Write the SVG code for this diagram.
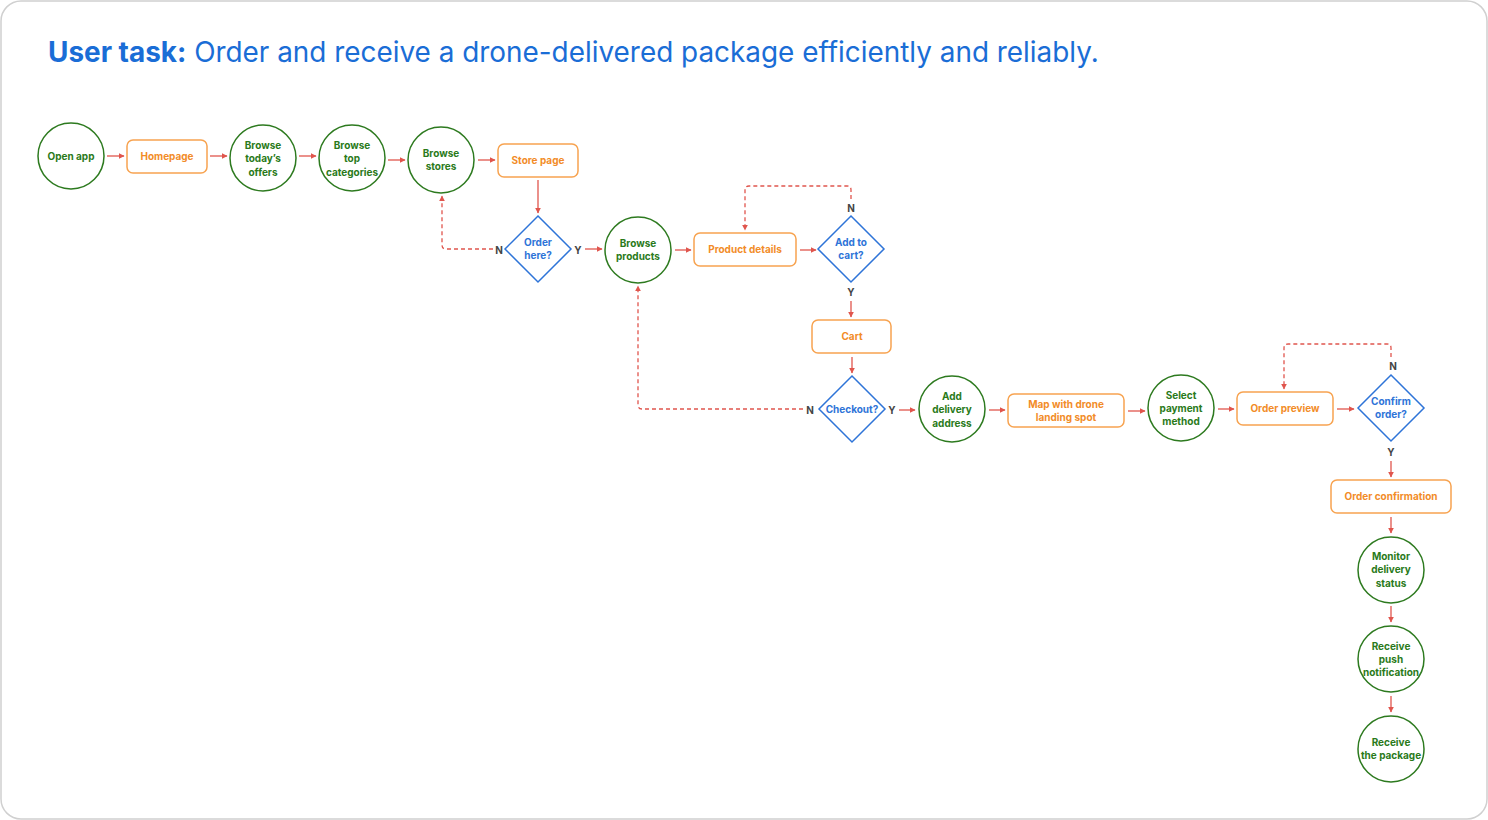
<svg xmlns="http://www.w3.org/2000/svg" width="1488" height="820" viewBox="0 0 1488 820">
<defs>
<marker id="ah" viewBox="0 0 10 10" refX="9" refY="5" markerWidth="6" markerHeight="6" markerUnits="userSpaceOnUse" orient="auto"><path d="M0,0 L10,5 L0,10 z" fill="#e0554d"/></marker>
<style>
.circ{fill:#fff;stroke:#2d7a1f;stroke-width:1.5}
.box{fill:#fff;stroke:#f7a350;stroke-width:1.5}
.dia{fill:#fff;stroke:#2e74d8;stroke-width:1.5}
.gt{font-family:Inter,"Liberation Sans",sans-serif;font-size:10px;font-weight:700;fill:#2a7a1a;text-anchor:middle}
.ot{font-family:Inter,"Liberation Sans",sans-serif;font-size:10px;font-weight:700;fill:#f28c28;text-anchor:middle}
.bt{font-family:Inter,"Liberation Sans",sans-serif;font-size:10px;font-weight:700;fill:#2e74d8;text-anchor:middle}
.lbl{font-family:Inter,"Liberation Sans",sans-serif;font-size:10px;font-weight:700;fill:#444;text-anchor:middle}
.c{fill:none;stroke:#e0554d;stroke-width:1.3;marker-end:url(#ah)}
.d{fill:none;stroke:#e0554d;stroke-width:1.3;stroke-dasharray:4 3;marker-end:url(#ah)}
</style>
</defs>
<rect x="1" y="1" width="1486" height="818" rx="20" fill="#fff" stroke="#d0d0d0" stroke-width="1.5"/>
<text x="48" y="62" font-family="Inter,'Liberation Sans',sans-serif" font-size="27.9" fill="#1a6dd6"><tspan font-weight="700">User task:</tspan> Order and receive a drone-delivered package efficiently and reliably.</text>

<g id="connectors">
<path class="c" d="M107,156 H124"/>
<path class="c" d="M210,156 H227"/>
<path class="c" d="M299,156 H316"/>
<path class="c" d="M388,160 H405"/>
<path class="c" d="M478,160 H495"/>
<path class="c" d="M538,180 V213"/>
<path class="d" d="M493,249 H446 Q442,249 442,245 V196"/>
<path class="c" d="M585,249 H602"/>
<path class="c" d="M675,250 H691"/>
<path class="c" d="M800,250 H816"/>
<path class="d" d="M851,199 V190 Q851,186 847,186 H749 Q745,186 745,190 V230"/>
<path class="c" d="M851,301 V317"/>
<path class="c" d="M852,357 V373"/>
<path class="d" d="M803,409 H642 Q638,409 638,405 V286"/>
<path class="c" d="M899,410 H915"/>
<path class="c" d="M989,410 H1005"/>
<path class="c" d="M1128,411 H1145"/>
<path class="c" d="M1218,409 H1234"/>
<path class="c" d="M1337,409 H1354"/>
<path class="d" d="M1391,357 V348 Q1391,344 1387,344 H1288 Q1284,344 1284,348 V389"/>
<path class="c" d="M1391,461 V477"/>
<path class="c" d="M1391,517 V533"/>
<path class="c" d="M1391,606 V622"/>
<path class="c" d="M1391,696 V712"/>
<text class="lbl" x="499" y="254">N</text>
<text class="lbl" x="578" y="254">Y</text>
<text class="lbl" x="851" y="212">N</text>
<text class="lbl" x="851" y="296">Y</text>
<text class="lbl" x="810" y="414">N</text>
<text class="lbl" x="892" y="414">Y</text>
<text class="lbl" x="1393" y="370">N</text>
<text class="lbl" x="1391" y="456">Y</text>
</g>

<g id="n-open-app"><circle class="circ" cx="71" cy="156" r="33"/><text class="gt" x="71" y="160">Open app</text></g>
<g id="n-homepage"><rect class="box" x="127" y="140" width="80" height="33" rx="6"/><text class="ot" x="167" y="160">Homepage</text></g>
<g id="n-offers"><circle class="circ" cx="263" cy="158" r="33"/><text class="gt" x="263" y="149">Browse</text><text class="gt" x="263" y="162">today’s</text><text class="gt" x="263" y="176">offers</text></g>
<g id="n-categories"><circle class="circ" cx="352" cy="158" r="33"/><text class="gt" x="352" y="149">Browse</text><text class="gt" x="352" y="162">top</text><text class="gt" x="352" y="176">categories</text></g>
<g id="n-stores"><circle class="circ" cx="441" cy="160" r="33"/><text class="gt" x="441" y="157">Browse</text><text class="gt" x="441" y="170">stores</text></g>
<g id="n-store-page"><rect class="box" x="498" y="144" width="80" height="33" rx="6"/><text class="ot" x="538" y="164">Store page</text></g>
<g id="n-order-here"><polygon class="dia" points="538,216 571,249 538,282 505,249"/><text class="bt" x="538" y="246">Order</text><text class="bt" x="538" y="259">here?</text></g>
<g id="n-browse-products"><circle class="circ" cx="638" cy="250" r="33"/><text class="gt" x="638" y="247">Browse</text><text class="gt" x="638" y="260">products</text></g>
<g id="n-product-details"><rect class="box" x="694" y="233" width="102" height="33" rx="6"/><text class="ot" x="745" y="253">Product details</text></g>
<g id="n-add-to-cart"><polygon class="dia" points="851,216 884,249 851,282 818,249"/><text class="bt" x="851" y="246">Add to</text><text class="bt" x="851" y="259">cart?</text></g>
<g id="n-cart"><rect class="box" x="812" y="320" width="79" height="33" rx="6"/><text class="ot" x="852" y="340">Cart</text></g>
<g id="n-checkout"><polygon class="dia" points="852,376 885,409 852,442 819,409"/><text class="bt" x="852" y="413">Checkout?</text></g>
<g id="n-address"><circle class="circ" cx="952" cy="409" r="33"/><text class="gt" x="952" y="400">Add</text><text class="gt" x="952" y="413">delivery</text><text class="gt" x="952" y="427">address</text></g>
<g id="n-map"><rect class="box" x="1008" y="394" width="116" height="33" rx="6"/><text class="ot" x="1066" y="408">Map with drone</text><text class="ot" x="1066" y="421">landing spot</text></g>
<g id="n-payment"><circle class="circ" cx="1181" cy="408" r="33"/><text class="gt" x="1181" y="399">Select</text><text class="gt" x="1181" y="412">payment</text><text class="gt" x="1181" y="425">method</text></g>
<g id="n-order-preview"><rect class="box" x="1237" y="392" width="96" height="33" rx="6"/><text class="ot" x="1285" y="412">Order preview</text></g>
<g id="n-confirm"><polygon class="dia" points="1391,375 1424,408 1391,441 1358,408"/><text class="bt" x="1391" y="405">Confirm</text><text class="bt" x="1391" y="418">order?</text></g>
<g id="n-confirmation"><rect class="box" x="1331" y="480" width="120" height="33" rx="6"/><text class="ot" x="1391" y="500">Order confirmation</text></g>
<g id="n-monitor"><circle class="circ" cx="1391" cy="570" r="33"/><text class="gt" x="1391" y="560">Monitor</text><text class="gt" x="1391" y="573">delivery</text><text class="gt" x="1391" y="587">status</text></g>
<g id="n-push"><circle class="circ" cx="1391" cy="659" r="33"/><text class="gt" x="1391" y="650">Receive</text><text class="gt" x="1391" y="663">push</text><text class="gt" x="1391" y="676">notification</text></g>
<g id="n-package"><circle class="circ" cx="1391" cy="749" r="33"/><text class="gt" x="1391" y="746">Receive</text><text class="gt" x="1391" y="759">the package</text></g>
</svg>
